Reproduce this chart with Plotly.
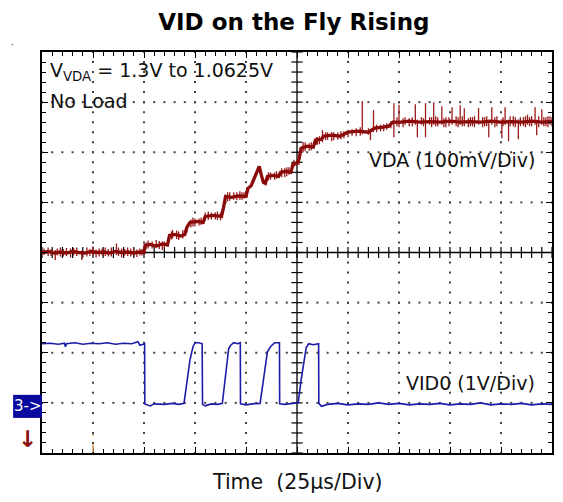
import plotly.graph_objects as go

# ---- data (time in microseconds, amplitude in screen divisions) ----
# VDA trace: underlying level
vda_t = [0, 3, 6, 9, 12, 15, 18, 21, 24, 27, 30, 33, 36, 39, 42, 45, 48, 50,
         50.5, 53, 56, 59, 61.5, 62.5, 65, 68, 70, 71, 72.5, 76, 79, 80, 84, 88, 89, 90, 93, 96, 100, 101,
         102.5, 103.5, 105, 106.5, 107.5, 108.5, 109.5, 110.5, 113, 116, 117, 120, 122, 123, 125, 126, 127,
         130, 133, 134, 137, 138, 142, 146, 150, 155, 160, 163, 167, 170, 172, 176, 180, 185, 190, 195, 200,
         205, 210, 215, 220, 225, 230, 235, 240, 245, 250]
vda_y = [4.0, 4.02, 3.99, 4.01, 3.99, 4.02, 4.0, 3.99, 4.02, 4.0, 4.01, 3.99, 4.02, 4.0, 4.01, 3.99, 4.01, 4.0,
         4.14, 4.16, 4.13, 4.17, 4.15, 4.34, 4.36, 4.33, 4.36, 4.5, 4.6, 4.62, 4.6, 4.72, 4.74, 4.72, 4.9, 5.12, 5.1, 5.13, 5.12, 5.28,
         5.33, 5.42, 5.58, 5.72, 5.55, 5.4, 5.38, 5.52, 5.54, 5.52, 5.6, 5.62, 5.6, 5.76, 5.78, 5.86, 6.08,
         6.12, 6.1, 6.24, 6.26, 6.32, 6.34, 6.32, 6.4, 6.42, 6.4, 6.48, 6.5, 6.52, 6.6, 6.6, 6.62, 6.6, 6.61, 6.6, 6.62,
         6.6, 6.61, 6.6, 6.62, 6.6, 6.61, 6.6, 6.62, 6.6, 6.61]
# VDA noise spikes: time, low end, high end
spike_t = [3, 6.5, 9, 12, 14, 17, 19.5, 22, 25, 28, 31, 34, 36.5, 39, 42, 45, 48,
           52, 56, 59, 64, 67, 71, 75, 78, 83, 86, 91, 94, 97, 99, 112, 115, 119, 121,
           128, 131, 135, 137.5, 140, 142, 145, 148, 152, 157, 160, 161, 162.5, 166, 169,
           172.5, 175, 178, 180, 183, 184, 186, 188, 190, 192, 194, 196, 198, 201, 203, 205, 207,
           210, 212, 214, 217, 219, 220.5, 223, 225.4, 227, 228.7, 231, 233.5, 236, 238, 240, 241.7, 242.5, 245, 247, 249,
           1, 4.5, 7.5, 10.5, 15.5, 23.5, 26.5, 29.5, 32.5, 37.5, 40.5, 43.5, 46.5, 49,
           51, 54, 57.5, 60, 63.5, 66, 69, 73, 74, 77, 80, 81.5, 85, 87.5, 92, 95.5, 98, 100.5,
           111, 114, 117.5, 120, 123.5, 126, 129, 132, 134.5, 136, 139, 143, 146.5, 150, 154, 156, 164, 167.5, 171,
           174, 177, 181.5, 187, 191, 193, 197, 199.5, 204, 206, 209, 211, 216, 218, 222, 226, 229.5, 232, 234.5,
           237, 239, 243.5, 246, 248, 250]
spike_lo = [3.93, 3.85, 3.92, 3.93, 3.9, 3.93, 3.85, 3.92, 3.94, 3.92, 3.93, 3.92, 3.95, 3.9, 3.93, 3.92, 3.94,
            4.08, 4.1, 4.05, 4.28, 4.25, 4.4, 4.52, 4.55, 4.66, 4.65, 5.02, 5.05, 5.05, 5.07, 5.45, 5.47, 5.5, 5.55,
            6.0, 6.03, 6.15, 6.2, 6.25, 6.22, 6.25, 6.28, 6.33, 6.36, 6.35, 6.24, 6.4, 6.42, 6.45,
            6.3, 6.5, 6.55, 6.52, 6.55, 6.3, 6.55, 6.3, 6.55, 6.55, 6.52, 6.55, 6.5, 6.55, 6.52, 6.55, 6.52,
            6.52, 6.5, 6.55, 6.52, 6.3, 6.55, 6.52, 6.28, 6.55, 6.22, 6.52, 6.26, 6.52, 6.55, 6.52, 6.55, 6.34, 6.55, 6.52, 6.55,
            3.95, 3.93, 3.94, 3.92, 3.94, 3.93, 3.9, 3.94, 3.92, 3.93, 3.94, 3.92, 3.91, 3.94,
            4.06, 4.08, 4.07, 4.08, 4.26, 4.27, 4.28, 4.5, 4.52, 4.54, 4.64, 4.65, 4.66, 4.64, 5.03, 5.04, 5.05, 5.1,
            5.44, 5.45, 5.5, 5.52, 5.7, 5.75, 6.02, 6.04, 6.15, 6.16, 6.24, 6.24, 6.26, 6.3, 6.32, 6.33, 6.4, 6.42, 6.48,
            6.52, 6.5, 6.52, 6.52, 6.5, 6.52, 6.5, 6.52, 6.5, 6.52, 6.5, 6.52, 6.5, 6.52, 6.5, 6.52, 6.52, 6.5, 6.52,
            6.5, 6.52, 6.5, 6.52, 6.5, 6.52]
spike_hi = [4.1, 4.05, 4.1, 4.09, 4.08, 4.1, 4.04, 4.1, 4.12, 4.08, 4.1, 4.1, 4.18, 4.08, 4.1, 4.1, 4.08,
            4.24, 4.25, 4.22, 4.45, 4.42, 4.55, 4.68, 4.7, 4.8, 4.82, 5.2, 5.2, 5.22, 5.2, 5.6, 5.62, 5.68, 5.7,
            6.2, 6.18, 6.3, 6.44, 6.4, 6.4, 6.4, 6.42, 6.46, 7.02, 6.48, 6.42, 6.84, 6.55, 6.58,
            6.98, 6.95, 6.7, 6.68, 6.96, 6.65, 6.7, 6.98, 6.7, 7.0, 6.7, 6.92, 6.7, 6.9, 6.72, 6.94, 6.88,
            6.7, 6.72, 6.88, 6.7, 6.65, 6.9, 6.72, 6.66, 6.9, 6.65, 6.72, 6.66, 6.7, 6.75, 6.72, 6.9, 6.65, 6.86, 6.7, 6.72,
            4.08, 4.07, 4.08, 4.07, 4.09, 4.07, 4.06, 4.08, 4.07, 4.1, 4.07, 4.08, 4.06, 4.07,
            4.2, 4.22, 4.23, 4.22, 4.42, 4.44, 4.45, 4.66, 4.7, 4.68, 4.8, 4.82, 4.8, 4.8, 5.2, 5.2, 5.2, 5.3,
            5.6, 5.6, 5.68, 5.7, 5.85, 5.95, 6.2, 6.2, 6.3, 6.32, 6.4, 6.4, 6.42, 6.45, 6.48, 6.5, 6.55, 6.56, 6.62,
            6.7, 6.68, 6.7, 6.68, 6.7, 6.72, 6.68, 6.7, 6.7, 6.72, 6.68, 6.7, 6.7, 6.72, 6.7, 6.7, 6.72, 6.7, 6.7,
            6.72, 6.7, 6.72, 6.7, 6.72, 6.7]

vid0_t = [0, 4, 8, 11, 11.5, 12, 16, 20, 24, 28, 32, 36, 40, 44, 47, 48, 50.3,
          50.4, 53, 55, 60, 64, 67, 69.6, 71, 72.5, 74, 75, 77, 78.5,
          78.7, 80, 83, 86, 88.4, 89.5, 90.5, 91.5, 92.5, 94, 96, 97.2,
          97.3, 100, 103, 106.9, 108, 109.5, 110.5, 112, 114, 116.4,
          116.5, 119, 122, 125.6, 127, 128.5, 129.5, 130.7, 133, 135.6,
          135.7, 137, 140, 145, 150, 155, 160, 165, 170, 175, 180, 185, 190, 195, 200, 205, 210, 215, 220, 225, 230, 235, 240, 245, 250]
vid0_y = [2.18, 2.19, 2.17, 2.19, 2.12, 2.18, 2.2, 2.17, 2.19, 2.18, 2.2, 2.17, 2.19, 2.18, 2.22, 2.15, 2.18,
          0.98, 0.94, 0.98, 0.97, 0.99, 0.97, 0.99, 1.4, 1.85, 2.12, 2.2, 2.2, 2.18,
          0.97, 0.94, 0.98, 0.97, 0.99, 1.4, 1.8, 2.08, 2.15, 2.2, 2.18, 2.2,
          0.98, 0.96, 0.98, 0.99, 1.3, 1.75, 2.02, 2.12, 2.2, 2.2,
          0.98, 0.97, 0.99, 1.0, 1.45, 1.85, 2.1, 2.18, 2.16, 2.18,
          0.99, 0.93, 0.97, 0.99, 0.96, 0.98, 0.97, 1.0, 0.97, 0.99, 0.96, 0.98, 0.97, 0.99, 0.96, 0.98, 0.97, 1.0, 0.96, 0.98, 0.97, 0.99, 0.96, 0.98, 0.97]

# small scope position marks above the screen (time) and their colours
mark_t = [62.5, 118.7, 187]
mark_c = ["#222", "#8080d0", "#222"]

# channel-3 ground level (divisions)
ch3_ground = 0.93

# screen grid: 10 x 8 divisions, 5 minor subdivisions
x_div = 25.0
n_xdiv = 10
n_ydiv = 8
sub = 5

fig = go.Figure()

# dotted graticule
gx, gy = [], []
for i in range(1, n_xdiv):
    if i == n_xdiv // 2:
        continue
    for j in range(n_ydiv * sub + 1):
        gx.append(i * x_div); gy.append(j / sub)
for j in range(1, n_ydiv):
    if j == n_ydiv // 2:
        continue
    for i in range(n_xdiv * sub + 1):
        gx.append(i * x_div / sub); gy.append(j)
fig.add_trace(go.Scatter(x=gx, y=gy, mode="markers", hoverinfo="skip",
                         marker=dict(symbol="square", size=2, color="#444"), showlegend=False))

# centre cross ticks
cx = [i * x_div / sub for i in range(n_xdiv * sub + 1)]
fig.add_trace(go.Scatter(x=cx, y=[n_ydiv / 2] * len(cx), mode="markers", hoverinfo="skip",
                         marker=dict(symbol="line-ns", size=8, line=dict(width=1.2, color="black")), showlegend=False))
cy = [j / sub for j in range(n_ydiv * sub + 1)]
fig.add_trace(go.Scatter(x=[n_xdiv / 2 * x_div] * len(cy), y=cy, mode="markers", hoverinfo="skip",
                         marker=dict(symbol="line-ew", size=8, line=dict(width=1.2, color="black")), showlegend=False))

fig.add_shape(type="line", x0=0, x1=n_xdiv * x_div, y0=n_ydiv / 2, y1=n_ydiv / 2, line=dict(color="black", width=1.3), layer="below")
fig.add_shape(type="line", x0=n_xdiv / 2 * x_div, x1=n_xdiv / 2 * x_div, y0=0, y1=n_ydiv, line=dict(color="black", width=1.3), layer="below")

# small orange marker line near the bottom of the screen
fig.add_shape(type="line", x0=x_div, x1=x_div, y0=0.02, y1=0.18, line=dict(color="#d9a060", width=1.5))
fig.add_shape(type="line", x0=x_div, x1=x_div, y0=0.34, y1=0.38, line=dict(color="#d9a060", width=1.5))

# position marks above the screen
fig.add_trace(go.Scatter(x=mark_t, y=[n_ydiv + 0.09] * len(mark_t), mode="markers", cliponaxis=False,
                         hoverinfo="skip", showlegend=False,
                         marker=dict(symbol="line-ew", size=4, line=dict(width=1.5, color=mark_c))))

fig.add_trace(go.Scatter(x=vid0_t, y=vid0_y, mode="lines", line=dict(color="#1c1ca8", width=1.6), showlegend=False))

sx, sy = [], []
for t, lo, hi in zip(spike_t, spike_lo, spike_hi):
    sx += [t, t, None]
    sy += [lo, hi, None]
fig.add_trace(go.Scatter(x=sx, y=sy, mode="lines", line=dict(color="#9a1a1a", width=1.3), showlegend=False,
                         hoverinfo="skip"))
fig.add_trace(go.Scatter(x=vda_t, y=vda_y, mode="lines", line=dict(color="#8a0a0a", width=3.3), showlegend=False))

txt_font = dict(family="DejaVu Sans, Arial, sans-serif", size=19, color="#111")
fig.add_annotation(x=0.012, y=7.62, xref="paper", yref="y", text="V<sub>VDA</sub> = 1.3V to 1.0625V",
                   showarrow=False, xanchor="left", yanchor="middle", font=txt_font)
fig.add_annotation(x=0.012, y=7.02, xref="paper", yref="y", text="No Load",
                   showarrow=False, xanchor="left", yanchor="middle", font=txt_font)
fig.add_annotation(x=0.97, y=5.84, xref="paper", yref="y", text="VDA (100mV/Div)",
                   showarrow=False, xanchor="right", yanchor="middle", font=txt_font)
fig.add_annotation(x=0.97, y=1.39, xref="paper", yref="y", text="VID0 (1V/Div)",
                   showarrow=False, xanchor="right", yanchor="middle", font=txt_font)
fig.add_annotation(x=0.5, y=-0.072, xref="paper", yref="paper", text="Time  (25μs/Div)",
                   showarrow=False, xanchor="center", yanchor="middle",
                   font=dict(family="DejaVu Sans, Arial, sans-serif", size=20.5, color="#111"))
# channel-3 ground marker box and trigger arrow
fig.add_shape(type="rect", xref="paper", yref="y", x0=-29 / 512, x1=0, y0=ch3_ground - 0.23, y1=ch3_ground + 0.23,
              fillcolor="#0a0aa0", line=dict(width=0))
fig.add_annotation(x=-14.5 / 512, y=ch3_ground, xref="paper", yref="y", text="3->", showarrow=False,
                   xanchor="center", yanchor="middle",
                   font=dict(family="DejaVu Sans, Arial, sans-serif", size=15, color="white"))
fig.add_annotation(x=-0.029, y=0.28, xref="paper", yref="y", text="<b>↓</b>", showarrow=False,
                   xanchor="center", yanchor="middle",
                   font=dict(family="DejaVu Sans, Arial, sans-serif", size=23, color="#8b1010"))
# stray dot left of the top of the screen
fig.add_annotation(x=-0.058, y=1.02, xref="paper", yref="paper", text="·", showarrow=False,
                   xanchor="center", yanchor="middle", font=dict(size=10, color="#333"))

axis_common = dict(showgrid=False, zeroline=False, showline=True, linecolor="black", linewidth=1.6,
                   mirror="ticks", ticks="inside", tickcolor="black", ticklen=6, tickwidth=1.2,
                   showticklabels=False)
fig.update_xaxes(range=[0, n_xdiv * x_div], dtick=x_div, tick0=0,
                 minor=dict(dtick=x_div / sub, ticks="inside", ticklen=4, tickcolor="black", tickwidth=1), **axis_common)
fig.update_yaxes(range=[0, n_ydiv], dtick=1, tick0=0,
                 minor=dict(dtick=1 / sub, ticks="inside", ticklen=4, tickcolor="black", tickwidth=1), **axis_common)

fig.update_layout(
    width=563, height=502,
    margin=dict(l=42, r=9, t=52, b=49),
    paper_bgcolor="white", plot_bgcolor="white",
    title=dict(text="<b>VID on the Fly Rising</b>", x=0.522, xanchor="center", y=1 - 21.7 / 502, yanchor="middle",
               yref="container", font=dict(family="DejaVu Sans, Arial, sans-serif", size=23, color="black")),
)

fig.write_html("out.html", config={"displayModeBar": False},
               post_script="document.body.style.margin='0px';document.body.style.overflow='hidden';")
